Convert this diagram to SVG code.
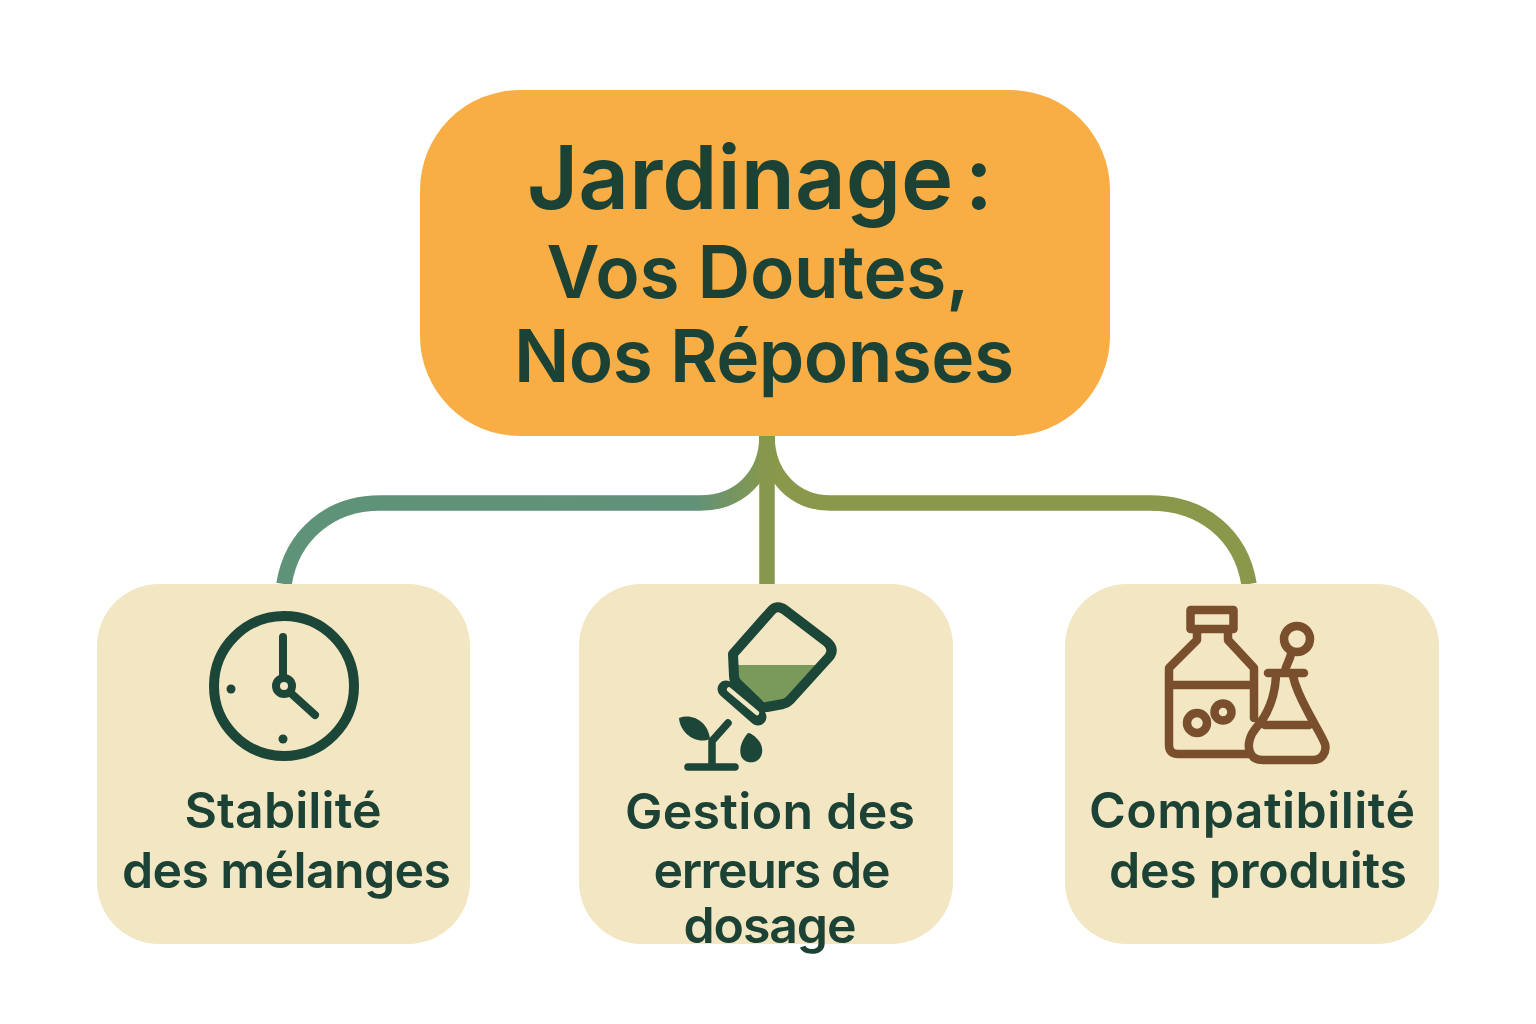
<svg xmlns="http://www.w3.org/2000/svg" width="1536" height="1024" viewBox="0 0 1536 1024">
<style>
.t{font-family:Inter,"Liberation Sans",sans-serif;font-weight:600;fill:#1C4135;text-anchor:middle}
.h{font-size:88.500px;word-spacing:-11px}.m{font-size:73px}.l{font-size:50px}
.box{fill:#F3E7C3}
.c{fill:none;stroke-width:15.5}
.g{fill:none;stroke:#1C4638;stroke-linecap:round;stroke-linejoin:round}
.b{fill:none;stroke:#7A4F2E;stroke-width:8.500;stroke-linecap:round;stroke-linejoin:round}
</style>
<defs>
<linearGradient id="gl" gradientUnits="userSpaceOnUse" x1="284" y1="0" x2="767" y2="0"><stop offset="0" stop-color="#5E9379"/><stop offset=".85" stop-color="#62917A"/><stop offset="1" stop-color="#86994C"/></linearGradient>
</defs>
<rect width="1536" height="1024" fill="#fff"/>
<g id="connectors">
<path class="c" stroke="url(#gl)" d="M284 584C292 535 330 503 380 503H700C740 503 767 475 767 436"/>
<path class="c" stroke="#8A984B" d="M1249 584C1241 535 1203 503 1150 503H830C794 503 767 475 767 436"/>
<path class="c" stroke="#86984D" d="M767 436V584"/>
</g>
<g id="root">
<rect x="420" y="90" width="690" height="346" rx="100" fill="#F9AE45"/>
<text class="t h" x="760" y="209">Jardinage :</text>
<text class="t m" x="758" y="298" textLength="423">Vos Doutes,</text>
<text class="t m" x="764" y="382" textLength="500">Nos Réponses</text>
</g>
<g id="node-stabilite">
<rect class="box" x="97" y="584" width="373" height="360" rx="62"/>
<circle class="g" cx="284" cy="686" r="70" stroke-width="10"/>
<path class="g" stroke-width="8" d="M283 637V686L315 715"/>
<circle cx="284" cy="686" r="8" fill="#F3E7C3" stroke="#1C4638" stroke-width="8"/>
<circle cx="231" cy="689" r="4.500" fill="#1C4638"/>
<circle cx="283" cy="739" r="4.500" fill="#1C4638"/>
<text class="t l" x="283" y="828" textLength="197">Stabilité</text>
<text class="t l" x="286.500" y="888" textLength="329">des mélanges</text>
</g>
<g id="node-dosage">
<rect class="box" x="579" y="584" width="374" height="360" rx="62"/>
<path fill="#7A9A5C" d="M737 665H818L787 698L767 704L738 682Z"/>
<path class="g" stroke-width="10" d="M733 654L771 611Q777 604 785 610L827 642Q835 649 829 657L790 700Q787 703 783 704L767 707Q763 708 760 705L738 684Q734 681 734 676Z"/>
<path class="g" stroke-width="17" d="M726 689L758 717"/>
<path fill="none" stroke="#F3E7C3" stroke-width="4.500" stroke-linecap="round" d="M729 689.500L757 713"/>
<path class="g" stroke-width="7.500" d="M688 767H735M712 766V741L728 723"/>
<path fill="#1C4638" d="M710 739C696 745 680 733 679 718C693 713 708 722 710 739Z"/>
<path fill="#1C4638" d="M748 733C741 741 739 749 741 756C744 763 753 764 758 760C764 755 763 746 759 741C755 736 751 733 748 733Z"/>
<text class="t l" x="770" y="829" textLength="290">Gestion des</text>
<text class="t l" x="772" y="888" textLength="237">erreurs de</text>
<text class="t l" x="770" y="943" textLength="173">dosage</text>
</g>
<g id="node-compatibilite">
<rect class="box" x="1065" y="584" width="374" height="360" rx="62"/>
<rect class="b" x="1190.500" y="610" width="43" height="19"/>
<path class="b" d="M1197 632V640L1169 668V745Q1169 754 1178 754H1250M1228 632V640L1254 668V718M1169 685H1254"/>
<circle class="b" cx="1197" cy="723" r="10"/>
<circle class="b" cx="1223" cy="712" r="8.500" stroke-width="7"/>
<circle class="b" cx="1297" cy="639" r="13" stroke-width="8.500"/>
<path class="b" d="M1291 654C1290 660 1286 665 1285 671M1268 673H1304"/>
<path class="b" d="M1276 676C1275 695 1270 712 1256 728C1250 735 1247 745 1250 752C1252 758 1257 760 1263 760H1313C1322 760 1327 752 1325 744C1322 736 1313 722 1307 710C1300 697 1295 685 1293 676"/>
<path class="b" d="M1265 725H1309"/>
<text class="t l" x="1252" y="828" textLength="326">Compatibilité</text>
<text class="t l" x="1258" y="888" textLength="298">des produits</text>
</g>
</svg>
